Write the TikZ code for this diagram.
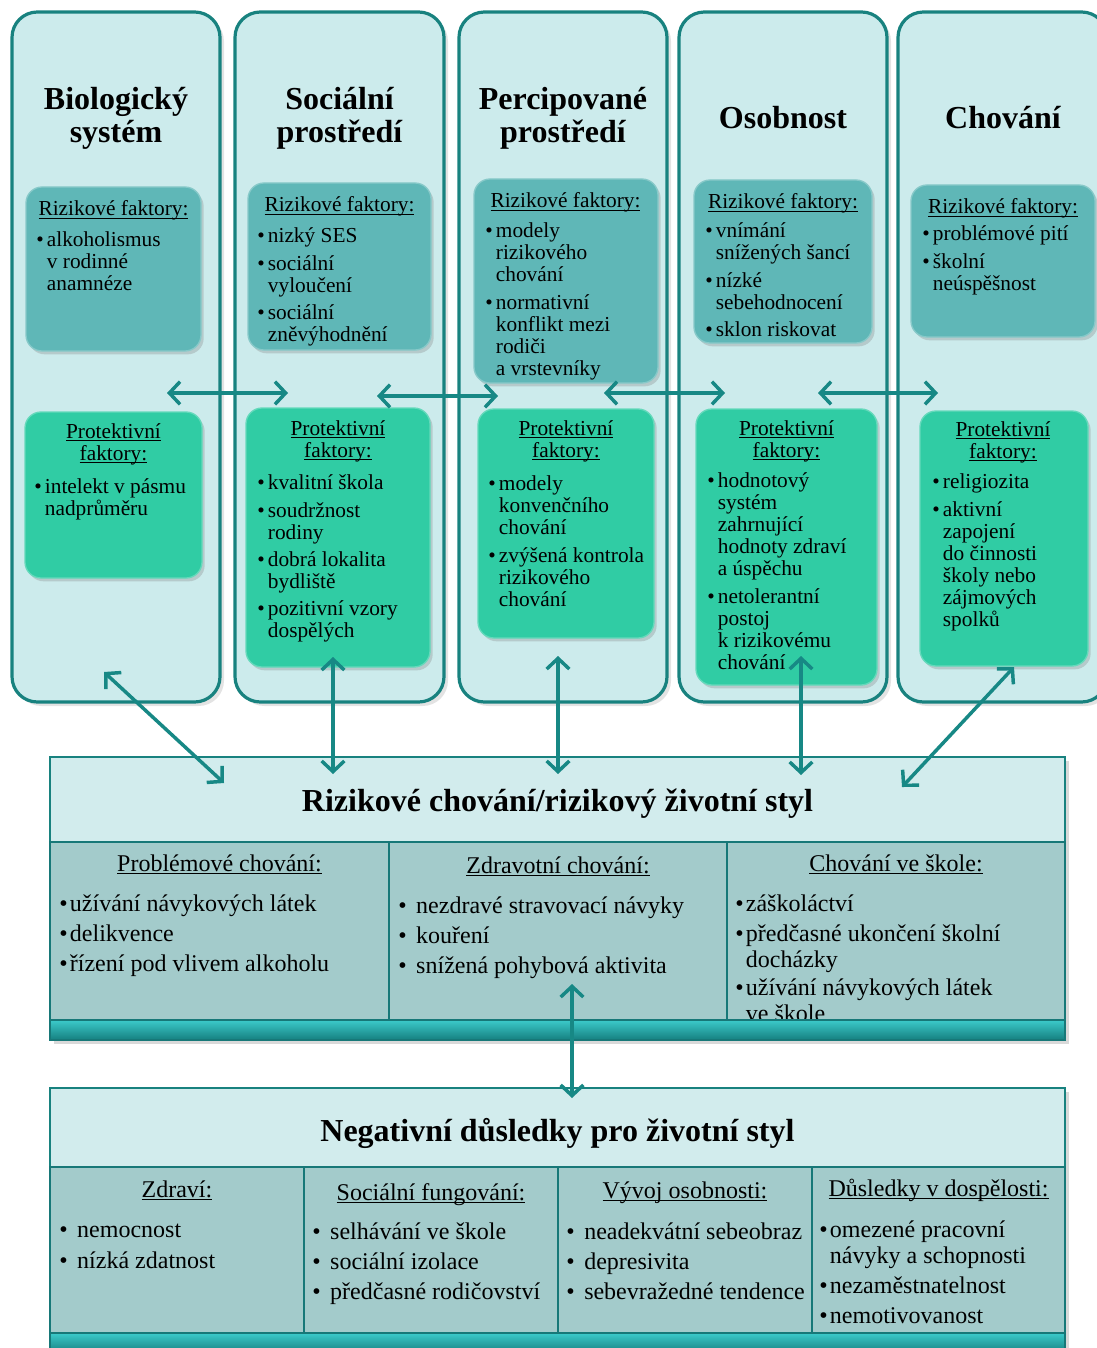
\documentclass[tikz,border=0pt]{standalone}
\usepackage{fontspec}
\setmainfont{Liberation Serif}
\usetikzlibrary{fit,shadows,arrows.meta}
\definecolor{colfill}{HTML}{CCEBEC}
\definecolor{colborder}{HTML}{18827F}
\definecolor{riskfill}{HTML}{5FB7B7}
\definecolor{protfill}{HTML}{30CCA4}
\definecolor{bandfill}{HTML}{D2ECED}
\definecolor{cellfill}{HTML}{A3CBCB}
\definecolor{celldark}{HTML}{177878}
\definecolor{bartop}{HTML}{3CCACA}
\definecolor{barbot}{HTML}{157F7F}
\definecolor{arrc}{HTML}{178885}
\newcommand\bu{\makebox[8pt][l]{\textbullet}}
\newcommand\ind{\hspace*{8pt}}
\newcommand\bW{\makebox[13.5pt][l]{\textbullet}}
\newsavebox\ulbox
\newcommand\ul[1]{\sbox\ulbox{#1}\rlap{\rule[-1.8pt]{\wd\ulbox}{0.6pt}}\usebox\ulbox}
\tikzset{
 colbox/.style={draw=colborder, line width=2.4pt, fill=colfill, rounded corners=19pt, inner sep=0pt,
   drop shadow={opacity=0.22, shadow xshift=3pt, shadow yshift=-3pt}},
 riskbox/.style={fill=riskfill, draw=riskfill!75!white, line width=1pt, rounded corners=12pt, inner sep=0pt,
   drop shadow={opacity=0.3, shadow xshift=2pt, shadow yshift=-2.5pt}},
 protbox/.style={fill=protfill, draw=protfill!75!white, line width=1pt, rounded corners=12pt, inner sep=0pt,
   drop shadow={opacity=0.3, shadow xshift=2pt, shadow yshift=-2.5pt}},
 frame/.style={fill=cellfill, draw=colborder, line width=1.5pt, inner sep=0pt,
   drop shadow={opacity=0.3, shadow xshift=3pt, shadow yshift=-3pt}},
 band/.style={fill=bandfill, draw=colborder, line width=1.5pt, inner sep=0pt},
 cell/.style={fill=cellfill, draw=celldark, line width=2.2pt, inner sep=0pt},
 bar/.style={top color=bartop, bottom color=barbot, draw=celldark, line width=1pt, inner sep=0pt},
 ttl/.style={font=\fontsize{24}{24.75}\selectfont\bfseries, align=center, inner sep=0pt, anchor=north,
   yshift=15.75pt, execute at begin node=\rule{0pt}{18pt}},
 hd/.style={font=\fontsize{16}{16.5}\selectfont, inner sep=0pt, anchor=base, yshift=-2.25pt},
 phd/.style={font=\fontsize{16}{16.5}\selectfont, align=center, inner sep=0pt, anchor=north,
   yshift=10.75pt, execute at begin node=\rule{0pt}{13pt}},
 lA/.style={font=\fontsize{16}{16.5}\selectfont, align=left, inner sep=0pt, anchor=north west,
   yshift=10.75pt, execute at begin node=\rule{0pt}{13pt}},
 hB/.style={font=\fontsize{18}{19.5}\selectfont, inner sep=0pt, anchor=base, yshift=-2.25pt},
 lB/.style={font=\fontsize{18}{19.5}\selectfont, align=left, inner sep=0pt, anchor=north west,
   yshift=11.75pt, execute at begin node=\rule{0pt}{14pt}},
 big/.style={font=\fontsize{24}{26}\selectfont\bfseries, inner sep=0pt, anchor=base, yshift=-2.25pt},
 arr/.style={draw=arrc, line width=2.6pt, {Straight Barb[length=8pt,width=17pt]}-{Straight Barb[length=8pt,width=17pt]}},
}
\begin{document}
\begin{tikzpicture}[x=0.75pt, y=-0.75pt]
\useasboundingbox (0,0) rectangle (1096,1348);

% ---- columns
\node[colbox, fit={(12,12)(220,702)}] (c1) {};
\node[colbox, fit={(235,12)(444,702)}] (c2) {};
\node[colbox, fit={(459,12)(667,702)}] (c3) {};
\node[colbox, fit={(679,12)(887,702)}] (c4) {};
\node[colbox, fit={(898,12)(1107,702)}] (c5) {};

\node[ttl] (t1) at (116,108) {Biologický\\systém};
\node[ttl] (t2) at (339.5,108) {Sociální\\prostředí};
\node[ttl] (t3) at (563,108) {Percipované\\prostředí};
\node[ttl] (t4) at (783,125) {Osobnost};
\node[ttl] (t5) at (1003,125) {Chování};

% ---- risk boxes
\node[riskbox, fit={(26,187)(201,351)}] (r1) {};
\node[riskbox, fit={(248,183)(431,350)}] (r2) {};
\node[riskbox, fit={(474,179)(658,383)}] (r3) {};
\node[riskbox, fit={(694,180)(872,343)}] (r4) {};
\node[riskbox, fit={(911,185)(1095,337)}] (r5) {};

\node[hd] (rh1) at (113.5,213) {\ul{Rizikové faktory:}};
\node[hd] (rh2) at (339.5,209) {\ul{Rizikové faktory:}};
\node[hd] (rh3) at (565.5,205) {\ul{Rizikové faktory:}};
\node[hd] (rh4) at (783,206) {\ul{Rizikové faktory:}};
\node[hd] (rh5) at (1003,211) {\ul{Rizikové faktory:}};

\node[lA] (rl1) at (36,246) {\bu alkoholismus\\\ind v rodinné\\\ind anamnéze};
\node[lA] (rl2) at (257,242) {\bu nizký SES\\[4pt]\bu sociální\\\ind vyloučení\\[4pt]\bu sociální\\\ind zněvýhodnění};
\node[lA] (rl3) at (485,237) {\bu modely\\\ind rizikového\\\ind chování\\[4pt]\bu normativní\\\ind konflikt mezi\\\ind rodiči\\\ind a vrstevníky};
\node[lA] (rl4) at (705,237) {\bu vnímání\\\ind snížených šancí\\[4pt]\bu nízké\\\ind sebehodnocení\\[4pt]\bu sklon riskovat};
\node[lA] (rl5) at (922,240) {\bu problémové pití\\[4pt]\bu školní\\\ind neúspěšnost};

% ---- protective boxes
\node[protbox, fit={(25,412)(202,578)}] (p1) {};
\node[protbox, fit={(246,408)(430,667)}] (p2) {};
\node[protbox, fit={(478,409)(654,638)}] (p3) {};
\node[protbox, fit={(696,409)(877,685)}] (p4) {};
\node[protbox, fit={(920,411)(1088,666)}] (p5) {};

\node[phd] (ph1) at (113.5,438) {\ul{Protektivní}\\\ul{faktory:}};
\node[phd] (ph2) at (338,435) {\ul{Protektivní}\\\ul{faktory:}};
\node[phd] (ph3) at (566,435) {\ul{Protektivní}\\\ul{faktory:}};
\node[phd] (ph4) at (786.5,435) {\ul{Protektivní}\\\ul{faktory:}};
\node[phd] (ph5) at (1003,436) {\ul{Protektivní}\\\ul{faktory:}};

\node[lA] (pl1) at (34,493) {\bu intelekt v pásmu\\\ind nadprůměru};
\node[lA] (pl2) at (257,489) {\bu kvalitní škola\\[4pt]\bu soudržnost\\\ind rodiny\\[4pt]\bu dobrá lokalita\\\ind bydliště\\[4pt]\bu pozitivní vzory\\\ind dospělých};
\node[lA] (pl3) at (488,490) {\bu modely\\\ind konvenčního\\\ind chování\\[4pt]\bu zvýšená kontrola\\\ind rizikového\\\ind chování};
\node[lA] (pl4) at (707,487) {\bu hodnotový\\\ind systém\\\ind zahrnující\\\ind hodnoty zdraví\\\ind a úspěchu\\[4pt]\bu netolerantní\\\ind postoj\\\ind k rizikovému\\\ind chování};
\node[lA] (pl5) at (932,488) {\bu religiozita\\[4pt]\bu aktivní\\\ind zapojení\\\ind do činnosti\\\ind školy nebo\\\ind zájmových\\\ind spolků};

% ---- box: risky behaviour
\node[frame, fit={(50,757)(1065,1040)}] (rb) {};
\node[band, fit={(50,757)(1065,842)}] (rbt) {};
\node[cell, fit={(50,842)(389,1020)}] (rb1) {};
\node[cell, fit={(389,842)(727,1020)}] (rb2) {};
\node[cell, fit={(727,842)(1065,1020)}] (rb3) {};
\node[big] (rbl) at (557.5,808) {Rizikové chování/rizikový životní styl};
\node[hB] (rbh1) at (219.5,868) {\ul{Problémové chování:}};
\node[hB] (rbh2) at (558,870) {\ul{Zdravotní chování:}};
\node[hB] (rbh3) at (896,868) {\ul{Chování ve škole:}};
\node[lB] (rbl1) at (59,910) {\bu užívání návykových látek\\[3pt]\bu delikvence\\[3pt]\bu řízení pod vlivem alkoholu};
\node[lB] (rbl2) at (398,912) {\bW nezdravé stravovací návyky\\[3pt]\bW kouření\\[3pt]\bW snížená pohybová aktivita};
\node[lB] (rbl3) at (735,910) {\bu záškoláctví\\[3pt]\bu předčasné ukončení školní\\\ind docházky\\[2pt]\bu užívání návykových látek\\\ind ve škole};
\node[bar, fit={(50,1020)(1065,1040)}] (rbb) {};

% ---- box: negative consequences
\node[frame, fit={(50,1088)(1065,1360)}] (nb) {};
\node[band, fit={(50,1088)(1065,1167)}] (nbt) {};
\node[cell, fit={(50,1167)(304,1333)}] (nb1) {};
\node[cell, fit={(304,1167)(558,1333)}] (nb2) {};
\node[cell, fit={(558,1167)(812,1333)}] (nb3) {};
\node[cell, fit={(812,1167)(1065,1333)}] (nb4) {};
\node[big] (nbl) at (557.5,1138) {Negativní důsledky pro životní styl};
\node[hB] (nbh1) at (177,1194) {\ul{Zdraví:}};
\node[hB] (nbh2) at (431,1197) {\ul{Sociální fungování:}};
\node[hB] (nbh3) at (685,1195) {\ul{Vývoj osobnosti:}};
\node[hB] (nbh4) at (938.5,1193) {\ul{Důsledky v dospělosti:}};
\node[lB] (nbl1) at (59,1239) {\bW nemocnost\\[4pt]\bW nízká zdatnost};
\node[lB] (nbl2) at (312,1238) {\bW selhávání ve škole\\[3pt]\bW sociální izolace\\[3pt]\bW předčasné rodičovství};
\node[lB] (nbl3) at (566,1238) {\bW neadekvátní sebeobraz\\[3pt]\bW depresivita\\[3pt]\bW sebevražedné tendence};
\node[lB] (nbl4) at (819,1236) {\bu omezené pracovní\\\ind návyky a schopnosti\\[3.5pt]\bu nezaměstnatelnost\\[3pt]\bu nemotivovanost};
\node[bar, fit={(50,1333)(1065,1353)}] (nbb) {};

% ---- arrow end points
\coordinate (h1a) at (167,393); \coordinate (h1b) at (288,393);
\coordinate (h2a) at (377,396); \coordinate (h2b) at (498,396);
\coordinate (h3a) at (604,393); \coordinate (h3b) at (725,393);
\coordinate (h4a) at (818,393); \coordinate (h4b) at (938,393);
\coordinate (v1a) at (104,672); \coordinate (v1b) at (224,783);
\coordinate (v2a) at (333,657); \coordinate (v2b) at (333,774);
\coordinate (v3a) at (558,656); \coordinate (v3b) at (558,774);
\coordinate (v4a) at (801,656); \coordinate (v4b) at (801,775);
\coordinate (v5a) at (1014,667); \coordinate (v5b) at (902,787);
\coordinate (v6a) at (572,984); \coordinate (v6b) at (572,1098);

\draw[arr] (h1a) -- (h1b);
\draw[arr] (h2a) -- (h2b);
\draw[arr] (h3a) -- (h3b);
\draw[arr] (h4a) -- (h4b);
\draw[arr] (v1a) -- (v1b);
\draw[arr] (v2a) -- (v2b);
\draw[arr] (v3a) -- (v3b);
\draw[arr] (v4a) -- (v4b);
\draw[arr] (v5a) -- (v5b);
\draw[arr] (v6a) -- (v6b);
\end{tikzpicture}
\end{document}
